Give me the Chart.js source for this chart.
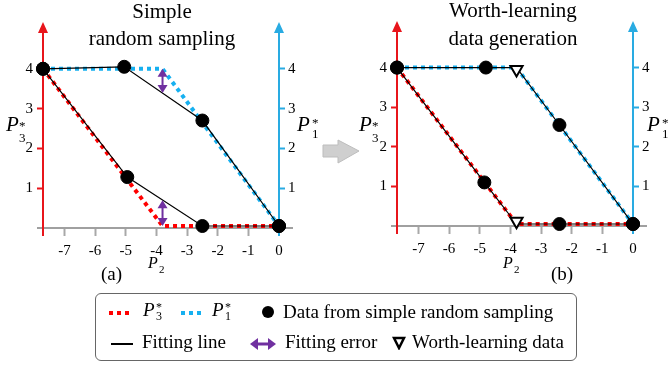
<!DOCTYPE html>
<html>
<head>
<meta charset="utf-8">
<script src="https://cdn.jsdelivr.net/npm/chart.js@4.4.1/dist/chart.umd.min.js"></script>
<style>
  html, body { margin: 0; padding: 0; background: #fff; }
  body { width: 668px; height: 371px; position: relative; overflow: hidden; font-family: 'Liberation Serif', 'Times New Roman', serif; color: #000; }
  canvas { position: absolute; top: 0; }
  .t { position: absolute; white-space: nowrap; line-height: 1; }
  .title { font-size: 21px; text-align: center; width: 200px; }
  .pl { font-style: italic; font-size: 21px; }
  .sm { font-size: 13px; }
  .lg { font-size: 19px; }
  #legend { position: absolute; left: 95px; top: 293px; width: 482px; height: 68px; border: 1px solid #666; border-radius: 6px; box-sizing: border-box; }
</style>
</head>
<body>
<canvas id="chartA" width="334" height="290" style="left:0"></canvas>
<canvas id="chartB" width="334" height="290" style="left:334px"></canvas>

<!-- titles -->
<div class="t title" style="left:62px; top:1px">Simple</div>
<div class="t title" style="left:62px; top:28px">random sampling</div>
<div class="t title" style="left:413px; top:0px">Worth-learning</div>
<div class="t title" style="left:413px; top:28px">data generation</div>

<!-- axis names -->
<div class="t pl" style="left:6px; top:114px">P</div>
<div class="t sm" style="left:19px; top:119px">*</div>
<div class="t sm" style="left:19px; top:131px">3</div>
<div class="t pl" style="left:297px; top:114px">P</div>
<div class="t sm" style="left:312px; top:116px">*</div>
<div class="t sm" style="left:312px; top:127px">1</div>

<div class="t pl" style="left:359px; top:114px">P</div>
<div class="t sm" style="left:372px; top:119px">*</div>
<div class="t sm" style="left:372px; top:131px">3</div>
<div class="t pl" style="left:647px; top:114px">P</div>
<div class="t sm" style="left:662px; top:116px">*</div>
<div class="t sm" style="left:662px; top:127px">1</div>

<div class="t" style="left:148px; top:255px; font-size:16px; font-style:italic">P</div>
<div class="t" style="left:159px; top:264px; font-size:11px">2</div>
<div class="t" style="left:503px; top:255px; font-size:16px; font-style:italic">P</div>
<div class="t" style="left:514px; top:264px; font-size:11px">2</div>

<div class="t lg" style="left:101px; top:264px">(a)</div>
<div class="t lg" style="left:551px; top:264px">(b)</div>

<!-- arrow between panels -->
<svg style="position:absolute; left:318px; top:136px" width="46" height="32">
  <polygon points="5,9 20,9 20,4 41,15 20,27 20,21 5,21" fill="#cfcfcf" stroke="#bdbdbd" stroke-width="1"/>
</svg>

<!-- legend -->
<div id="legend">
  <div style="position:absolute; left:13px; top:17px; width:24px; height:4px; background:repeating-linear-gradient(90deg,#f00 0 4px,transparent 4px 8px)"></div>
  <div class="t" style="left:47px; top:6px; font-size:19px; font-style:italic">P</div>
  <div class="t" style="left:60px; top:7px; font-size:12px">*</div>
  <div class="t" style="left:60px; top:16px; font-size:12px">3</div>
  <div style="position:absolute; left:85px; top:17px; width:22px; height:4px; background:repeating-linear-gradient(90deg,#16b0f0 0 4px,transparent 4px 8px)"></div>
  <div class="t" style="left:116px; top:6px; font-size:19px; font-style:italic">P</div>
  <div class="t" style="left:129px; top:7px; font-size:12px">*</div>
  <div class="t" style="left:129px; top:16px; font-size:12px">1</div>
  <div style="position:absolute; left:166px; top:12px; width:12px; height:12px; border-radius:50%; background:#000"></div>
  <div class="t lg" style="left:187px; top:8px">Data from simple random sampling</div>

  <div style="position:absolute; left:15px; top:49px; width:22px; height:1.5px; background:#000"></div>
  <div class="t lg" style="left:46px; top:38px">Fitting line</div>
  <svg style="position:absolute; left:153px; top:43px" width="28" height="14">
    <polygon points="1,7 9,1 9,13" fill="#7030a0"/>
    <polygon points="27,7 19,1 19,13" fill="#7030a0"/>
    <line x1="8" y1="7" x2="20" y2="7" stroke="#7030a0" stroke-width="3"/>
  </svg>
  <div class="t lg" style="left:189px; top:38px">Fitting error</div>
  <svg style="position:absolute; left:296px; top:42px" width="14" height="14">
    <polygon points="2,2 12,2 7,12" fill="#fff" stroke="#000" stroke-width="2.5" stroke-linejoin="miter"/>
  </svg>
  <div class="t lg" style="left:316px; top:38px">Worth-learning data</div>
</div>

<script>
// ---- data ----
const xTicks = [-7, -6, -5, -4, -3, -2, -1, 0];
const yTicks = [1, 2, 3, 4];

// true optimal curves (same in both panels)
const p3TrueX = [-7.7, -3.8, 0];
const p3TrueY = [4, 0.05, 0.05];
const p1TrueX = [-7.7, -3.8, 0];
const p1TrueY = [4, 4, 0.05];

// (a) simple random sampling
const aP3X = [-7.7, -4.95, -2.5, 0];
const aP3Y = [4, 1.28, 0.05, 0.05];
const aP1X = [-7.7, -5.05, -2.5, 0];
const aP1Y = [4, 4.05, 2.7, 0.05];
const aErrX = -3.8;
const aP1Err = [4, 3.39];
const aP3Err = [0.05, 0.7];

// (b) worth-learning data generation
const bP3X = [-7.7, -4.85, -2.4, 0];
const bP3Y = [4, 1.1, 0.05, 0.05];
const bP1X = [-7.7, -4.8, -2.4, 0];
const bP1Y = [4, 4, 2.55, 0.05];
const bWorthX = [-3.8, -3.8];
const bWorthY = [3.95, 0.12];
const bP3FitX = [-7.7, -4.85, -3.8, -2.4, 0];
const bP3FitY = [4, 1.1, 0.05, 0.05, 0.05];
const bP1FitX = [-7.7, -4.8, -3.8, -2.4, 0];
const bP1FitY = [4, 4, 4, 2.55, 0.05];

const RED = '#ff0000';
const BLUE = '#16b0f0';
const RED_AX = '#e8151b';
const BLUE_AX = '#29abe2';
const PURPLE = '#7030a0';
const serif = "'Liberation Serif', 'Times New Roman', serif";

Chart.defaults.font.family = serif;

const pts = (xs, ys) => xs.map((x, i) => ({ x: x, y: ys[i] }));

function truthLine(xs, ys, color) {
    return { data: pts(xs, ys), borderColor: color, borderWidth: 4, borderDash: [4, 4],
             pointRadius: 0, order: 4, clip: false };
}
function fitLine(xs, ys) {
    return { data: pts(xs, ys), borderColor: '#000', borderWidth: 1.2, pointRadius: 0, order: 3, clip: false };
}
function dots(xs, ys) {
    return { data: pts(xs, ys), showLine: false, pointRadius: 6.5, pointBackgroundColor: '#000',
             pointBorderColor: '#000', order: 1, clip: false };
}
function errArrow(x, ys) {
    return { data: pts([x, x], ys), showLine: false, pointRadius: 0, errorArrow: true, order: 2, clip: false };
}

// axis lines with arrow heads
const axesPlugin = {
    id: 'axes',
    beforeDatasetsDraw(chart) {
        const { ctx, chartArea: a, scales } = chart;
        const y0 = scales.y.getPixelForValue(0);
        ctx.save();
        ctx.lineWidth = 2;
        ctx.strokeStyle = '#a0a0a0';
        ctx.beginPath();
        ctx.moveTo(a.left - 6, y0);
        ctx.lineTo(a.right + 14, y0);
        ctx.stroke();
        [[a.left, RED_AX], [a.right, BLUE_AX]].forEach(([px, c]) => {
            ctx.strokeStyle = c;
            ctx.fillStyle = c;
            ctx.beginPath();
            ctx.moveTo(px, y0 + 8);
            ctx.lineTo(px, a.top + 6);
            ctx.stroke();
            ctx.beginPath();
            ctx.moveTo(px, a.top - 3);
            ctx.lineTo(px - 5, a.top + 8);
            ctx.lineTo(px + 5, a.top + 8);
            ctx.closePath();
            ctx.fill();
        });
        ctx.restore();
    }
};

// purple double-headed error arrows
const arrowPlugin = {
    id: 'errArrows',
    afterDatasetsDraw(chart) {
        const ctx = chart.ctx;
        chart.data.datasets.forEach((ds, i) => {
            if (!ds.errorArrow) return;
            const [p, q] = chart.getDatasetMeta(i).data;
            const dir = q.y > p.y ? 1 : -1;
            ctx.save();
            ctx.strokeStyle = PURPLE;
            ctx.fillStyle = PURPLE;
            ctx.lineWidth = 2;
            ctx.beginPath();
            ctx.moveTo(p.x, p.y + dir * 6);
            ctx.lineTo(q.x, q.y - dir * 6);
            ctx.stroke();
            [[p, dir], [q, -dir]].forEach(([t, d]) => {
                ctx.beginPath();
                ctx.moveTo(t.x, t.y);
                ctx.lineTo(t.x - 5, t.y + d * 8);
                ctx.lineTo(t.x + 5, t.y + d * 8);
                ctx.closePath();
                ctx.fill();
            });
            ctx.restore();
        });
    }
};

function panel(id, datasets, box) {
    const tickFont = { family: serif, size: 15 };
    const yAxis = (pos, color, width, pad) => ({
        type: 'linear', position: pos, min: 0, max: 5.1,
        afterBuildTicks: s => { s.ticks = yTicks.map(v => ({ value: v })); },
        afterFit: s => { s.width = width; },
        grid: { drawOnChartArea: false, color: color, tickLength: 6, tickWidth: 2 },
        border: { display: false },
        ticks: { font: tickFont, color: '#000', padding: pad }
    });
    return new Chart(document.getElementById(id), {
        type: 'line',
        data: { datasets: datasets },
        options: {
            responsive: false,
            animation: false,
            events: [],
            layout: { padding: { top: box.top, left: 0, right: 0, bottom: 0 } },
            plugins: { legend: { display: false }, tooltip: { enabled: false } },
            elements: { line: { tension: 0 } },
            scales: {
                x: {
                    type: 'linear', min: -7.7, max: 0,
                    afterBuildTicks: s => { s.ticks = xTicks.map(v => ({ value: v })); },
                    afterFit: s => { s.height = box.bottom; },
                    grid: {
                        drawOnChartArea: false, tickLength: 8, tickWidth: 2,
                        color: c => (c.tick && c.tick.value === 0) ? 'rgba(0,0,0,0)' : '#a8a8a8'
                    },
                    border: { display: false },
                    ticks: { font: tickFont, color: '#000', padding: 6, maxRotation: 0, autoSkip: false }
                },
                y: yAxis('left', RED_AX, box.left, 4),
                y2: yAxis('right', BLUE_AX, box.right, 3)
            }
        },
        plugins: [axesPlugin, arrowPlugin]
    });
}

function drawAll() {
    panel('chartA', [
        dots(aP3X, aP3Y),
        dots(aP1X, aP1Y),
        errArrow(aErrX, aP1Err),
        errArrow(aErrX, aP3Err),
        fitLine(aP3X, aP3Y),
        fitLine(aP1X, aP1Y),
        truthLine(p3TrueX, p3TrueY, RED),
        truthLine(p1TrueX, p1TrueY, BLUE)
    ], { left: 43, right: 55, top: 25, bottom: 62 });

    panel('chartB', [
        dots(bP3X, bP3Y),
        dots(bP1X, bP1Y),
        { data: pts(bWorthX, bWorthY), showLine: false, pointStyle: 'triangle', rotation: 180, pointRadius: 7,
          pointBackgroundColor: '#fff', pointBorderColor: '#000', pointBorderWidth: 2, order: 1, clip: false },
        fitLine(bP3FitX, bP3FitY),
        fitLine(bP1FitX, bP1FitY),
        truthLine(p3TrueX, p3TrueY, RED),
        truthLine(p1TrueX, p1TrueY, BLUE)
    ], { left: 63, right: 35, top: 24, bottom: 64 });
}

// make sure the serif face is ready before the canvas text is drawn
document.fonts.load("15px 'Liberation Serif'").then(drawAll, drawAll);
</script>
</body>
</html>
